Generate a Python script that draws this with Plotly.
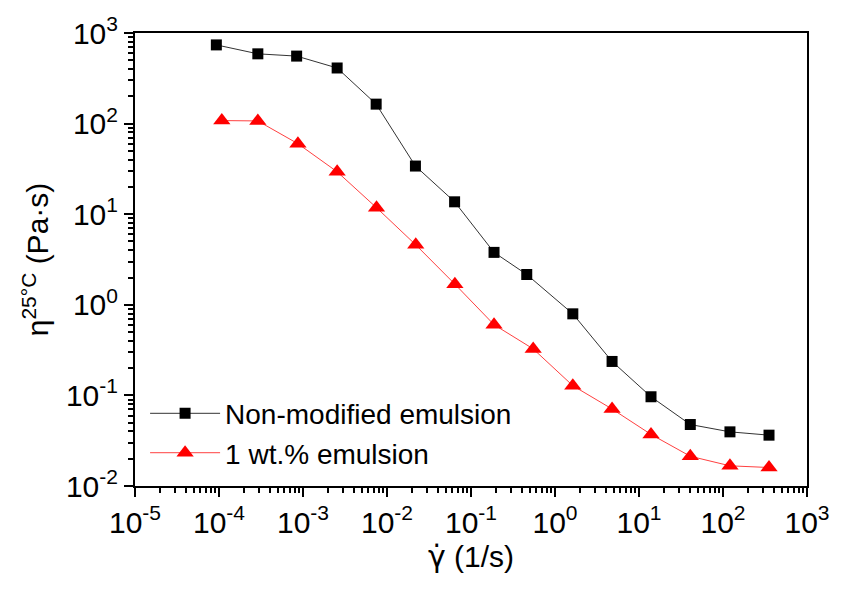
import plotly.graph_objects as go

# ---- data ----
shear_rate_a = [9.3e-5, 2.9e-4, 8.4e-4, 2.55e-3, 7.43e-3, 0.0218, 0.0638, 0.188, 0.461,
                1.63, 4.78, 13.9, 40.8, 121, 353]
visc_nonmod = [739, 589, 556, 411, 164, 34.0, 13.7, 3.79, 2.16,
               0.795, 0.237, 0.0966, 0.0477, 0.0396, 0.0364]

shear_rate_b = [1.08e-4, 2.9e-4, 8.7e-4, 2.55e-3, 7.5e-3, 0.022, 0.0643, 0.188, 0.55,
                1.63, 4.78, 13.9, 40.8, 121, 353]
visc_1wt = [108, 107, 60, 29.4, 11.8, 4.59, 1.69, 0.603, 0.326,
            0.128, 0.0708, 0.0371, 0.0213, 0.0167, 0.0160]

x_exponents = [-5, -4, -3, -2, -1, 0, 1, 2, 3]
y_exponents = [-2, -1, 0, 1, 2, 3]
x_ticktext = ["10<sup>%d</sup>" % e for e in x_exponents]
y_ticktext = ["10<sup>%d</sup>" % e for e in y_exponents]

series_names = ["Non-modified emulsion", "1 wt.% emulsion"]

FONT = "Liberation Sans, Arial, sans-serif"

fig = go.Figure()
fig.add_trace(go.Scatter(
    x=shear_rate_a, y=visc_nonmod, name=series_names[0], mode="lines+markers",
    line=dict(color="#333333", width=1),
    marker=dict(symbol="square", size=11, color="black"),
))
fig.add_trace(go.Scatter(
    x=shear_rate_b, y=visc_1wt, name=series_names[1], mode="lines+markers",
    line=dict(color="#ff4040", width=1),
    marker=dict(symbol="triangle-up", size=15, color="#ff0000"),
))

def minor_vals(exps):
    out = []
    for e in exps[:-1]:
        for m in range(2, 10):
            out.append(m * 10 ** e)
    return out

axis_common = dict(
    type="log", showgrid=False, zeroline=False,
    showline=True, linecolor="black", linewidth=2, mirror=True,
    ticks="outside", ticklen=9, tickwidth=2, tickcolor="black",
    tickfont=dict(family=FONT, size=30, color="black"),
    title_font=dict(family=FONT, size=30, color="black"),
)

fig.update_xaxes(
    **axis_common,
    range=[-5, 3],
    tickmode="array", tickvals=[10 ** e for e in x_exponents], ticktext=x_ticktext,
    minor=dict(tickmode="array", tickvals=minor_vals(x_exponents), ticks="outside",
               ticklen=5, tickwidth=1.5, tickcolor="black", showgrid=False),
    title=dict(text="<span style='font-family:DejaVu Sans'>γ\u0307</span> (1/s)", standoff=6),
)
fig.update_yaxes(
    **axis_common,
    range=[-2, 3],
    tickmode="array", tickvals=[10 ** e for e in y_exponents], ticktext=y_ticktext,
    minor=dict(tickmode="array", tickvals=minor_vals(y_exponents), ticks="outside",
               ticklen=5, tickwidth=1.5, tickcolor="black", showgrid=False),
    title=dict(text="η<sup>25°C</sup> (Pa·s)", standoff=8),
)

fig.update_layout(
    width=842, height=595,
    margin=dict(l=135, r=29, t=29, b=109),
    plot_bgcolor="white", paper_bgcolor="white",
    font=dict(family=FONT, size=30, color="black"),
    legend=dict(x=0.015, y=0.215, xanchor="left", yanchor="top",
                bgcolor="rgba(0,0,0,0)", font=dict(family=FONT, size=28, color="black"),
                tracegroupgap=0, itemwidth=70),
    showlegend=True,
)

fig.write_html("out.html")
